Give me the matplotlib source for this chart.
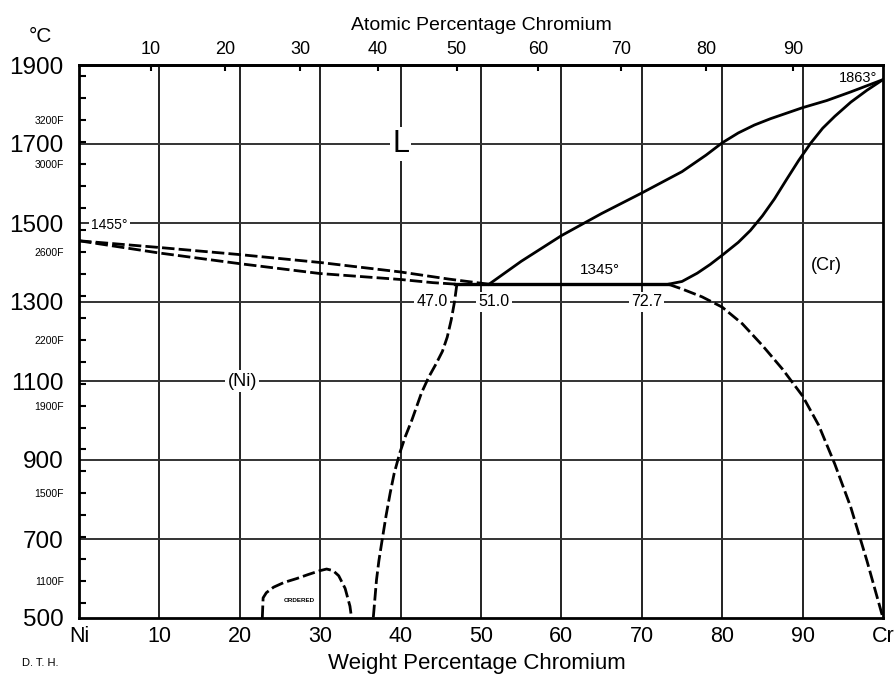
import numpy as np
import matplotlib
matplotlib.use('Agg')
import matplotlib.pyplot as plt

plt.rcParams['font.family'] = ['Liberation Sans', 'DejaVu Sans']

# Ni-Cr phase diagram (wt% Cr, deg C)
liq_ni_x = [0, 10, 20, 30, 40, 46, 51]
liq_ni_t = [1455, 1438, 1420, 1400, 1376, 1358, 1345]
sol_ni_x = [0, 10, 20, 30, 40, 44, 47]
sol_ni_t = [1455, 1424, 1397, 1372, 1357, 1349, 1345]

liq_cr_x = [51, 55, 60, 65, 70, 75, 78, 80, 82, 84, 86, 88, 90, 93, 96, 100]
liq_cr_t = [1345, 1403, 1468, 1524, 1576, 1630, 1672, 1703, 1728, 1748, 1764, 1778, 1792, 1810, 1832, 1863]
sol_cr_x = [73.3, 75, 76.9, 78.5, 80.1, 82, 83.5, 85, 86.5, 88, 89.5, 91, 92.5, 94, 96, 98, 100]
sol_cr_t = [1345, 1352, 1373, 1395, 1420, 1451, 1481, 1518, 1561, 1610, 1658, 1702, 1740, 1770, 1806, 1836, 1863]

eut_x = [46.8, 73.3]
eut_t = [1345, 1345]

solv_ni_x = [47, 46.9, 46.7, 46.3, 45.8, 45.2, 44.4, 43.5, 42.6, 41.4, 40.6, 39.9, 39.2, 38.7, 38.2, 37.7, 37.3, 37.0, 36.6]
solv_ni_t = [1345, 1330, 1300, 1255, 1211, 1175, 1143, 1110, 1070, 1001, 960, 918, 866, 816, 760, 697, 645, 596, 500]
solv_cr_x = [73.3, 75, 77.5, 80, 82.5, 85, 87.5, 90, 92, 94, 96, 98, 100]
solv_cr_t = [1345, 1333, 1313, 1287, 1245, 1190, 1130, 1062, 988, 890, 780, 645, 500]

ord_x = [22.8, 22.9, 23.3, 24.2, 25.5, 27.1, 28.5, 30.0, 30.8, 31.6, 32.3, 33.1, 33.7, 33.9]
ord_t = [500, 551, 564, 578, 590, 600, 610, 620, 624, 620, 607, 575, 530, 500]

# axis ticks
wt_ticks = [0, 10, 20, 30, 40, 50, 60, 70, 80, 90, 100]
wt_labels = ['Ni', '10', '20', '30', '40', '50', '60', '70', '80', '90', 'Cr']
at_ticks = [10, 20, 30, 40, 50, 60, 70, 80, 90]
c_ticks = [500, 700, 900, 1100, 1300, 1500, 1700, 1900]
f_ticks = list(range(1000, 3500, 100))
f_labelled = [1100, 1500, 1900, 2200, 2600, 3000, 3200]

M_CR, M_NI = 52.00, 58.69


def at2wt(a):
    a = np.asarray(a, dtype=float)
    return 100 * a * M_CR / (a * M_CR + (100 - a) * M_NI)


def wt2at(w):
    w = np.asarray(w, dtype=float)
    return 100 * (w / M_CR) / (w / M_CR + (100 - w) / M_NI)


fig = plt.figure(figsize=(8.96, 6.78), dpi=100)
ax = fig.add_axes([79 / 896, 1 - 618 / 678, 804 / 896, 553 / 678])
ax.set_xlim(0, 100)
ax.set_ylim(500, 1900)

for s in ax.spines.values():
    s.set_linewidth(2)

# grid
for x in range(10, 100, 10):
    ax.axvline(x, color='#222222', lw=1.4, zorder=1)
for t in [700, 900, 1100, 1300, 1500, 1700]:
    ax.axhline(t, color='#333333', lw=1.4, zorder=1)

dash = (0, (4.5, 1.5))
lw = 2.0
ax.plot(liq_ni_x, liq_ni_t, color='black', lw=lw, ls=dash, zorder=3)
ax.plot(sol_ni_x, sol_ni_t, color='black', lw=lw, ls=dash, zorder=3)
ax.plot(liq_cr_x, liq_cr_t, color='black', lw=lw, zorder=3)
ax.plot(sol_cr_x, sol_cr_t, color='black', lw=lw, zorder=3)
ax.plot(eut_x, eut_t, color='black', lw=2.4, zorder=3)
ax.plot(solv_ni_x, solv_ni_t, color='black', lw=lw, ls=dash, zorder=3)
ax.plot(solv_cr_x, solv_cr_t, color='black', lw=lw, ls=dash, zorder=3)
ax.plot(ord_x, ord_t, color='black', lw=lw, ls=dash, zorder=3)

# bottom axis
ax.set_xticks(wt_ticks)
ax.set_xticklabels(wt_labels)
ax.tick_params(axis='x', length=0, pad=6, labelsize=15.5)

# left axis: deg C major, deg F minor
ax.set_yticks(c_ticks)
ax.set_yticklabels([str(c) for c in c_ticks])
fc = [(f - 32) * 5 / 9 for f in f_ticks]
ax.set_yticks(fc, minor=True)
ax.set_yticklabels([f'{f}F' if f in f_labelled else '' for f in f_ticks], minor=True)
ax.tick_params(axis='y', which='major', length=0, pad=11, labelsize=17.5)
ax.tick_params(axis='y', which='minor', direction='in', length=5, width=1.5,
               pad=11, labelsize=7.5)

# top axis: atomic percent
top = ax.secondary_xaxis('top', functions=(wt2at, at2wt))
top.set_xticks(at_ticks)
top.tick_params(direction='in', length=4, width=1.5, pad=5, labelsize=13)
top.spines['top'].set_linewidth(2)

fig.text(0.537, 1 - 25 / 678, 'Atomic Percentage Chromium', ha='center', va='center', fontsize=14)
fig.text(0.532, 1 - 663 / 678, 'Weight Percentage Chromium', ha='center', va='center', fontsize=16)
fig.text(40 / 896, 1 - 37 / 678, '°C', ha='center', va='center', fontsize=15)
fig.text(22 / 896, 1 - 663 / 678, 'D. T. H.', ha='left', va='center', fontsize=8)

wbox = dict(facecolor='white', edgecolor='none', pad=1.5)
ax.text(40, 1700, 'L', ha='center', va='center', fontsize=22, bbox=wbox, zorder=4)
ax.text(20.3, 1100, '(Ni)', ha='center', va='center', fontsize=13, bbox=wbox, zorder=4)
ax.text(93, 1392, '(Cr)', ha='center', va='center', fontsize=13, zorder=4)
ax.text(64.8, 1381, '1345°', ha='center', va='center', fontsize=11, zorder=4)
ax.text(1.5, 1496, '1455°', ha='left', va='center', fontsize=10, bbox=wbox, zorder=4)
ax.text(99.3, 1866, '1863°', ha='right', va='center', fontsize=10.5, zorder=4)
ax.text(27.4, 545, 'ORDERED', ha='center', va='center', fontsize=4.5, weight='bold', zorder=4)
ax.text(43.9, 1300, '47.0', ha='center', va='center', fontsize=11.5, bbox=wbox, zorder=4)
ax.text(51.6, 1300, '51.0', ha='center', va='center', fontsize=11.5, bbox=wbox, zorder=4)
ax.text(70.6, 1300, '72.7', ha='center', va='center', fontsize=11.5, bbox=wbox, zorder=4)

fig.savefig('out.png', dpi=100)
